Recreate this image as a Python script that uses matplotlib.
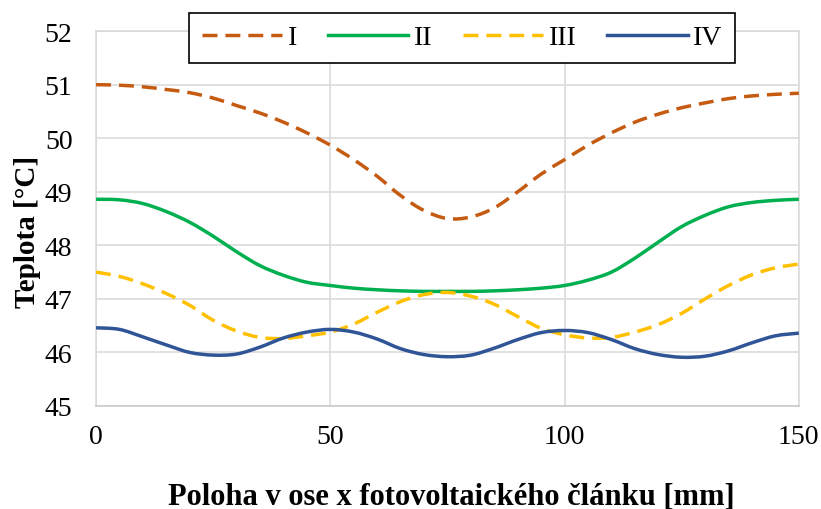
import matplotlib

matplotlib.use("Agg")

import matplotlib.pyplot as plt
from matplotlib.lines import Line2D
from matplotlib.patches import PathPatch
from matplotlib.path import Path
import numpy as np

# position along the cell [mm]
x_mm = np.arange(0, 151, 5)

# temperature profiles [°C]
temp_i = [51.0, 50.99, 50.96, 50.91, 50.85, 50.75, 50.61, 50.47, 50.3, 50.1, 49.87,
          49.6, 49.29, 48.93, 48.65, 48.5, 48.53, 48.7, 49.0, 49.33, 49.6,
          49.87, 50.1, 50.3, 50.45, 50.57, 50.66, 50.74, 50.79, 50.82, 50.84]
temp_ii = [48.86, 48.85, 48.78, 48.63, 48.43, 48.17, 47.88, 47.62, 47.44, 47.31, 47.25,
           47.2, 47.17, 47.15, 47.14, 47.14, 47.14, 47.15, 47.17, 47.2, 47.25,
           47.35, 47.5, 47.76, 48.06, 48.35, 48.56, 48.72, 48.8, 48.84, 48.86]
temp_iii = [47.5, 47.42, 47.28, 47.1, 46.88, 46.6, 46.4, 46.28, 46.26, 46.31, 46.38,
            46.53, 46.75, 46.95, 47.08, 47.12, 47.05, 46.9, 46.67, 46.45, 46.33,
            46.27, 46.28, 46.38, 46.52, 46.73, 47.0, 47.25, 47.45, 47.58, 47.65]
temp_iv = [46.46, 46.43, 46.29, 46.14, 46.0, 45.95, 45.97, 46.1, 46.27, 46.38, 46.43,
           46.38, 46.25, 46.07, 45.96, 45.92, 45.95, 46.08, 46.24, 46.37, 46.41,
           46.37, 46.24, 46.07, 45.96, 45.91, 45.93, 46.03, 46.18, 46.31, 46.36]

series_labels = ["I", "II", "III", "IV"]
series_colors = ["#C55A11", "#00B050", "#FFC000", "#2F5597"]
series_dashed = [True, False, True, False]
x_ticks = [0, 50, 100, 150]
y_ticks = [45, 46, 47, 48, 49, 50, 51, 52]

plt.rcParams["font.family"] = ["Liberation Serif", "DejaVu Serif"]

GRID = "#D9D9D9"
LW = 2.5
DASH = (4.3, 2.3)


def smooth_path(x, y):
    # cubic Bezier through the points (spreadsheet-style "smoothed line")
    pts = np.column_stack([x, y]).astype(float)
    n = len(pts)
    verts = [pts[0]]
    codes = [Path.MOVETO]
    for i in range(n - 1):
        p0 = pts[max(i - 1, 0)]
        p1 = pts[i]
        p2 = pts[i + 1]
        p3 = pts[min(i + 2, n - 1)]
        verts += [p1 + (p2 - p0) / 6.0, p2 - (p3 - p1) / 6.0, p2]
        codes += [Path.CURVE4] * 3
    return Path(verts, codes)


fig = plt.figure(figsize=(8.21, 5.10), dpi=100)
ax = fig.add_axes([0.117, 0.202, 0.856, 0.735])

handles = []
for values, color, dashed, label in zip([temp_i, temp_ii, temp_iii, temp_iv],
                                        series_colors, series_dashed, series_labels):
    style = (0, DASH) if dashed else "solid"
    patch = PathPatch(smooth_path(x_mm, values), fill=False, edgecolor=color, lw=LW,
                      linestyle=style, joinstyle="round", zorder=3)
    ax.add_patch(patch)
    handles.append(Line2D([], [], color=color, lw=LW, linestyle=style, label=label))

ax.set_xlim(0, 150)
ax.set_ylim(45, 52)
ax.set_xticks(x_ticks)
ax.set_yticks(y_ticks)
ax.tick_params(axis="both", length=0, labelsize=20)
ax.tick_params(axis="x", pad=13)
ax.tick_params(axis="y", pad=17)
ax.grid(True, color=GRID, lw=1.1)
ax.set_axisbelow(True)
for side in ("left", "right", "top", "bottom"):
    ax.spines[side].set_color(GRID)
    ax.spines[side].set_linewidth(1.1)
ax.spines["bottom"].set_color("#C8C8C8")

ax.set_xlabel("Poloha v ose x fotovoltaického článku [mm]", fontsize=22,
              fontweight="bold", va="center")
ax.xaxis.set_label_coords(0.506, -0.24)
ax.set_ylabel("Teplota [°C]", fontsize=21, fontweight="bold", va="center")
ax.yaxis.set_label_coords(-0.098, 0.467)

leg = fig.legend(handles=handles, loc="center", bbox_to_anchor=(0.563, 0.924), ncol=4,
                 fontsize=20, frameon=True, fancybox=False, handlelength=2.9,
                 handletextpad=0.2, columnspacing=1.1, borderpad=0.45,
                 borderaxespad=0)
leg.get_frame().set_edgecolor("black")
leg.get_frame().set_linewidth(1.2)
leg.get_frame().set_alpha(1)

fig.savefig("out.png", dpi=100)
